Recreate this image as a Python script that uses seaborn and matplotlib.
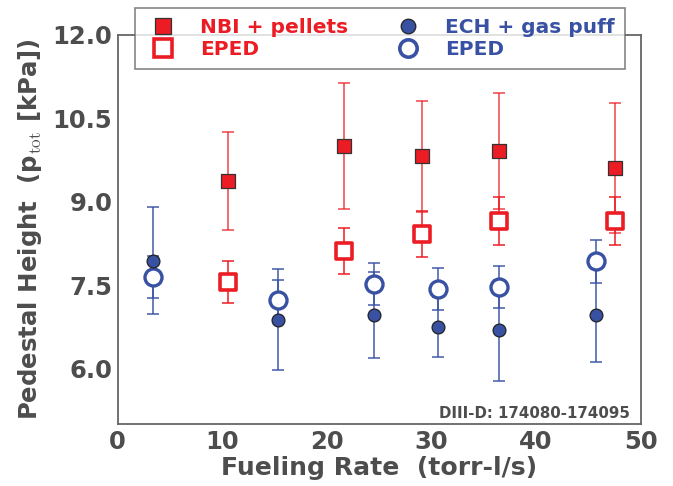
import matplotlib
matplotlib.use("Agg")
import matplotlib.pyplot as plt
from matplotlib.lines import Line2D
import seaborn as sns
import pandas as pd

# ---- data ----
nbi_x = [10.5, 21.6, 29.1, 36.5, 47.5]
nbi_y = [9.38, 10.0, 9.82, 9.91, 9.61]
nbi_err = [0.88, 1.14, 1.0, 1.05, 1.17]
nbi_eped_y = [7.55, 8.11, 8.42, 8.66, 8.66]
nbi_eped_err = [0.38, 0.41, 0.42, 0.43, 0.43]

ech_x = [3.35, 15.3, 24.5, 30.6, 36.5, 45.7]
ech_y = [7.94, 6.88, 6.96, 6.75, 6.69, 6.96]
ech_err = [0.96, 0.91, 0.78, 0.54, 0.91, 0.84]
ech_eped_y = [7.64, 7.24, 7.52, 7.43, 7.46, 7.93]
ech_eped_err = [0.38, 0.36, 0.37, 0.38, 0.38, 0.39]

x_ticks = [0, 10, 20, 30, 40, 50]
y_ticks = [6.0, 7.5, 9.0, 10.5, 12.0]
y_tick_labels = ["6.0", "7.5", "9.0", "10.5", "12.0"]

RED = "#ec1c24"
BLUE = "#3851a3"
GREY = "#4d4d4d"

sns.set_style("white")
plt.rcParams["font.family"] = ["DejaVu Sans"]
plt.rcParams["mathtext.fontset"] = "cm"

nbi = pd.DataFrame({"x": nbi_x, "y": nbi_y, "err": nbi_err,
                    "ey": nbi_eped_y, "eerr": nbi_eped_err})
ech = pd.DataFrame({"x": ech_x, "y": ech_y, "err": ech_err,
                    "ey": ech_eped_y, "eerr": ech_eped_err})

fig = plt.figure(figsize=(6.73, 4.86), dpi=100)
ax = fig.add_axes([117.7 / 673, 62 / 486, 523 / 673, 389 / 486])

# error bars
ax.errorbar(ech["x"], ech["y"], yerr=ech["err"], fmt="none", ecolor=BLUE,
            alpha=0.8, elinewidth=1.3, capsize=4, capthick=1.3, zorder=1)
ax.errorbar(ech["x"], ech["ey"], yerr=ech["eerr"], fmt="none", ecolor=BLUE,
            alpha=0.8, elinewidth=1.3, capsize=4, capthick=1.3, zorder=1)
ax.errorbar(nbi["x"], nbi["y"], yerr=nbi["err"], fmt="none", ecolor=RED,
            alpha=0.7, elinewidth=1.3, capsize=4, capthick=1.3, zorder=1)
ax.errorbar(nbi["x"], nbi["ey"], yerr=nbi["eerr"], fmt="none", ecolor=RED,
            alpha=0.85, elinewidth=1.3, capsize=4, capthick=1.3, zorder=1)

# markers
sns.scatterplot(data=ech, x="x", y="ey", ax=ax, marker="o", s=150,
                facecolor="white", edgecolor=BLUE, linewidth=2.4, zorder=3)
sns.scatterplot(data=ech, x="x", y="y", ax=ax, marker="o", s=85,
                color=BLUE, edgecolor="#222222", linewidth=0.9, zorder=4)
sns.scatterplot(data=nbi, x="x", y="ey", ax=ax, marker="s", s=130,
                facecolor="white", edgecolor=RED, linewidth=2.6, zorder=3)
sns.scatterplot(data=nbi, x="x", y="y", ax=ax, marker="s", s=90,
                color=RED, edgecolor="#333333", linewidth=0.9, zorder=4)

ax.set_xlim(0, 50)
ax.set_ylim(5.0, 12.0)
ax.set_xticks(x_ticks)
ax.set_xticklabels([str(t) for t in x_ticks])
ax.set_yticks(y_ticks)
ax.set_yticklabels(y_tick_labels)
ax.tick_params(length=0, labelsize=17.5, labelcolor=GREY, pad=4)
for lab in ax.get_xticklabels() + ax.get_yticklabels():
    lab.set_fontweight("bold")
for sp in ax.spines.values():
    sp.set_color("#666666")
    sp.set_linewidth(1.3)

ax.set_xlabel("Fueling Rate  (torr-l/s)", fontsize=18.1, fontweight="bold",
              color=GREY, labelpad=2)
ax.set_ylabel(r"Pedestal Height  (p$_{\rm tot}$ [kPa])", fontsize=17.6,
              fontweight="bold", color=GREY, labelpad=6)

ax.text(0.98, 0.016, "DIII-D: 174080-174095", transform=ax.transAxes,
        ha="right", va="baseline", fontsize=10.8, fontweight="bold", color=GREY)

handles = [
    Line2D([], [], ls="none", marker="s", markersize=11, color=RED,
           markeredgecolor="#333333", markeredgewidth=0.9),
    Line2D([], [], ls="none", marker="s", markersize=12.5, markerfacecolor="white",
           markeredgecolor=RED, markeredgewidth=2.6),
    Line2D([], [], ls="none", marker="o", markersize=10.5, color=BLUE,
           markeredgecolor="#222222", markeredgewidth=0.9),
    Line2D([], [], ls="none", marker="o", markersize=12.5, markerfacecolor="white",
           markeredgecolor=BLUE, markeredgewidth=2.6),
]
labels = ["NBI + pellets", "EPED", "ECH + gas puff", "EPED"]
leg = fig.legend(handles, labels, ncol=2, loc="upper left",
                 bbox_to_anchor=(135 / 673, 1 - 8 / 486),
                 borderaxespad=0, frameon=True, fancybox=False,
                 prop={"size": 14.5, "weight": "bold"}, handletextpad=0.95,
                 labelspacing=0.15, borderpad=0.5, handlelength=1.8,
                 columnspacing=2.05)
leg.get_frame().set_edgecolor("#666666")
leg.get_frame().set_linewidth(1.2)
for txt, c in zip(leg.get_texts(), [RED, RED, BLUE, BLUE]):
    txt.set_color(c)

fig.savefig("out.png", dpi=100)
